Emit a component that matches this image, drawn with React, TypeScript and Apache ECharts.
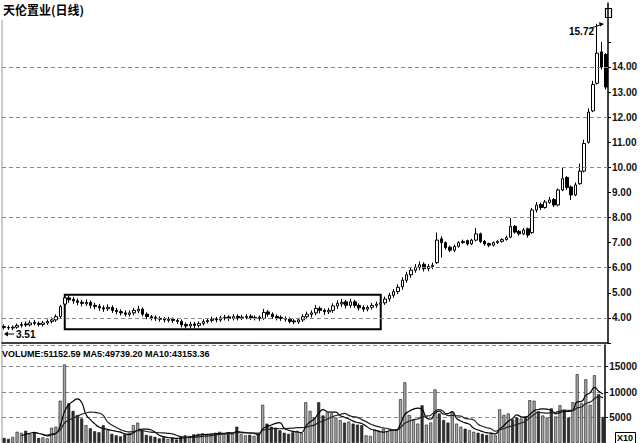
import React, { useEffect, useRef } from 'react';
import * as echarts from 'echarts';

// Daily K-line of 天伦置业 (140 trading days)
const openPrices = [
  3.66, 3.62, 3.60, 3.63, 3.70, 3.76, 3.72, 3.82, 3.78, 3.74, 3.80, 3.86, 3.92, 4.05, 4.55,
  4.80, 4.74, 4.68, 4.62, 4.56, 4.62, 4.50, 4.46, 4.40, 4.36, 4.42, 4.30, 4.25, 4.20, 4.14,
  4.20, 4.28, 4.35, 4.15, 4.05, 4.02, 3.98, 3.95, 3.90, 3.95, 3.90, 3.86, 3.74, 3.68, 3.76,
  3.70, 3.78, 3.85, 3.90, 3.96, 3.92, 4.00, 4.04, 3.98, 4.06, 4.00, 4.02, 4.07, 4.00, 4.03,
  3.98, 4.24, 4.15, 4.06, 4.02, 3.98, 3.95, 3.88, 3.84, 3.92, 4.05, 4.14, 4.20, 4.38, 4.30,
  4.24, 4.30, 4.48, 4.56, 4.64, 4.50, 4.64, 4.50, 4.42, 4.35, 4.42, 4.50, 4.55, 4.60, 4.76,
  4.90, 5.05, 5.24, 5.50, 5.72, 5.90, 6.02, 6.14, 5.96, 6.05, 6.20, 7.15, 7.00, 6.82, 6.70,
  6.85, 7.00, 7.08, 6.95, 7.10, 7.35, 7.05, 6.96, 6.90, 7.00, 7.05, 7.12, 7.22, 7.65, 7.45,
  7.35, 7.55, 7.40, 8.30, 8.52, 8.40, 8.60, 8.72, 8.50, 9.10, 9.60, 9.22, 8.90, 9.35, 9.85,
  11.00, 12.25, 13.35, 14.60, 14.50,
];
const closePrices = [
  3.62, 3.60, 3.63, 3.70, 3.74, 3.72, 3.80, 3.78, 3.74, 3.80, 3.86, 3.92, 4.05, 4.45, 4.80,
  4.72, 4.68, 4.62, 4.58, 4.62, 4.50, 4.45, 4.40, 4.36, 4.42, 4.30, 4.25, 4.20, 4.15, 4.20,
  4.30, 4.35, 4.15, 4.05, 4.00, 3.98, 3.95, 3.92, 3.95, 3.90, 3.86, 3.72, 3.68, 3.75, 3.70,
  3.78, 3.85, 3.90, 3.95, 3.92, 4.00, 4.02, 3.98, 4.05, 4.00, 4.03, 4.06, 4.00, 4.02, 3.98,
  4.22, 4.15, 4.05, 4.00, 3.98, 3.95, 3.86, 3.84, 3.92, 4.05, 4.15, 4.20, 4.38, 4.30, 4.25,
  4.30, 4.48, 4.58, 4.62, 4.50, 4.64, 4.50, 4.40, 4.35, 4.42, 4.50, 4.55, 4.60, 4.75, 4.90,
  5.05, 5.22, 5.50, 5.72, 5.90, 6.02, 6.12, 5.96, 6.05, 6.10, 7.10, 7.00, 6.80, 6.70, 6.85,
  7.00, 7.05, 6.95, 7.10, 7.35, 7.05, 6.95, 6.90, 7.00, 7.05, 7.12, 7.20, 7.65, 7.42, 7.35,
  7.50, 7.30, 8.30, 8.50, 8.40, 8.62, 8.70, 8.50, 9.10, 9.55, 9.20, 8.90, 9.30, 9.85, 10.95,
  12.20, 13.30, 14.55, 14.00, 13.20,
];
const lowPrices = [
  3.54, 3.52, 3.51, 3.57, 3.62, 3.64, 3.66, 3.70, 3.66, 3.66, 3.72, 3.78, 3.84, 3.98, 4.36,
  4.60, 4.56, 4.50, 4.46, 4.48, 4.38, 4.34, 4.28, 4.24, 4.28, 4.20, 4.14, 4.10, 4.06, 4.05,
  4.10, 4.18, 4.06, 3.95, 3.90, 3.88, 3.85, 3.82, 3.82, 3.80, 3.76, 3.62, 3.58, 3.60, 3.60,
  3.62, 3.70, 3.78, 3.82, 3.82, 3.84, 3.90, 3.88, 3.90, 3.90, 3.92, 3.94, 3.92, 3.90, 3.88,
  3.92, 4.05, 3.96, 3.90, 3.88, 3.85, 3.78, 3.75, 3.76, 3.84, 3.95, 4.02, 4.10, 4.18, 4.12,
  4.15, 4.20, 4.36, 4.44, 4.38, 4.40, 4.40, 4.30, 4.25, 4.26, 4.33, 4.40, 4.45, 4.52, 4.65,
  4.80, 4.95, 5.12, 5.40, 5.60, 5.80, 5.90, 5.85, 5.86, 5.94, 6.15, 6.40, 6.72, 6.62, 6.62,
  6.80, 6.95, 6.88, 6.90, 7.05, 6.98, 6.88, 6.82, 6.85, 6.95, 7.00, 7.08, 7.18, 7.36, 7.28,
  7.30, 7.20, 7.35, 8.20, 8.30, 8.35, 8.55, 8.42, 8.45, 9.05, 9.10, 8.70, 8.85, 9.30, 9.80,
  10.95, 12.20, 13.30, 13.90, 13.10,
];
const highPrices = [
  3.74, 3.70, 3.70, 3.78, 3.84, 3.86, 3.90, 3.92, 3.86, 3.88, 3.94, 4.02, 4.14, 4.52, 4.90,
  4.90, 4.84, 4.78, 4.72, 4.74, 4.70, 4.60, 4.56, 4.50, 4.54, 4.50, 4.40, 4.34, 4.30, 4.30,
  4.40, 4.48, 4.42, 4.22, 4.12, 4.10, 4.06, 4.03, 4.04, 4.02, 3.98, 3.94, 3.82, 3.85, 3.84,
  3.86, 3.95, 3.98, 4.05, 4.04, 4.08, 4.12, 4.11, 4.15, 4.14, 4.12, 4.15, 4.14, 4.10, 4.10,
  4.36, 4.32, 4.22, 4.14, 4.10, 4.06, 4.02, 3.96, 4.00, 4.15, 4.25, 4.30, 4.52, 4.46, 4.38,
  4.40, 4.58, 4.70, 4.76, 4.72, 4.76, 4.72, 4.58, 4.50, 4.50, 4.60, 4.65, 4.70, 4.85, 5.00,
  5.15, 5.34, 5.62, 5.84, 6.02, 6.14, 6.25, 6.22, 6.15, 6.20, 7.40, 7.25, 7.05, 6.88, 6.92,
  7.06, 7.12, 7.12, 7.15, 7.58, 7.40, 7.10, 7.00, 7.05, 7.10, 7.18, 7.28, 7.98, 7.70, 7.50,
  7.58, 7.60, 8.38, 8.62, 8.60, 8.70, 8.82, 8.78, 9.16, 10.00, 9.65, 9.28, 9.40, 10.15, 11.10,
  12.35, 13.45, 15.72, 15.00, 14.55,
];
const volumes = [
  1000, 800, 1200, 2200, 2000, 2400, 1800, 2100, 1000, 1100, 900, 3000, 3200, 8300, 15400,
  7800, 6300, 5500, 4800, 3500, 2900, 2300, 2100, 3500, 2600, 1800, 1500, 1300, 1700, 2000,
  3500, 4000, 2500, 1600, 1400, 1200, 900, 1100, 800, 1000, 700, 1200, 1500, 1400, 1700,
  1800, 1900, 1600, 1800, 2000, 2200, 1900, 2100, 1800, 3200, 1700, 1500, 1600, 1400, 1800,
  7500, 3800, 3200, 3000, 2500, 2000, 1800, 2100, 2400, 2000, 8000, 6300, 5000, 8000, 5400,
  6000, 5800, 5000, 4500, 4000, 4200, 3800, 3600, 3500, 1500, 1400, 2600, 2400, 2800, 2300,
  2500, 2700, 8600, 11900, 5500, 4500, 3800, 7400, 3600, 4000, 10500, 5800, 4500, 4000, 6000,
  3800, 3200, 2800, 2500, 2200, 2000, 1800, 1600, 2000, 1500, 6600, 5500, 5800, 4600, 5000,
  4800, 5200, 8400, 8300, 6200, 5400, 5000, 6800, 5200, 7400, 6500, 5000, 8000, 13500, 7800,
  12500, 7500, 13300, 9600, 5100,
];
const priceTickLines = [4, 6, 8, 10, 12, 14];
const boxRange = { startDay: 14, endDay: 87, top: 4.92, bottom: 3.55 };
const lowestLabel = '3.51';
const highestLabel = '15.72';
const titleText = '天伦置业(日线)';
const volumeText = 'VOLUME:51152.59 MA5:49739.20 MA10:43153.36';

const dayLabels = openPrices.map((_, i) => `D${i + 1}`);

function movingAverage(arr: number[], n: number) {
  return arr.map((_, i) => {
    if (i < n - 1) return '-';
    let s = 0;
    for (let k = i - n + 1; k <= i; k++) s += arr[k];
    return +(s / n).toFixed(1);
  });
}

const smallFont = '"Liberation Sans Narrow", "Liberation Sans", Arial, sans-serif';

export default function App() {
  const ref = useRef<HTMLDivElement>(null);
  useEffect(() => {
    if (!ref.current) return;
    const chart = echarts.init(ref.current, undefined, { renderer: 'svg' });
    const kData = openPrices.map((o, i) => [o, closePrices[i], lowPrices[i], highPrices[i]]);
    const volData = volumes.map((v, i) => ({
      value: v,
      itemStyle: {
        color: closePrices[i] >= openPrices[i] ? '#a8a8a8' : '#303030',
        borderColor: '#111',
        borderWidth: 0.6,
      },
    }));
    const axisFont = { fontFamily: smallFont, fontWeight: 'bold' as const, fontSize: 10, color: '#111' };
    chart.setOption({
      animation: false,
      backgroundColor: '#fff',
      textStyle: { fontFamily: 'Liberation Sans, Arial, sans-serif' },
      grid: [
        { left: 2, right: 26, top: 3, height: 340 },
        { left: 2, right: 26, top: 345, height: 100 },
      ],
      xAxis: [
        {
          type: 'category', gridIndex: 0, data: dayLabels, boundaryGap: true,
          axisLine: { show: true, lineStyle: { color: '#000', width: 1.5 } },
          axisTick: { show: false }, axisLabel: { show: false }, splitLine: { show: false },
        },
        {
          type: 'category', gridIndex: 1, data: dayLabels, boundaryGap: true,
          axisLine: { show: false }, axisTick: { show: false }, axisLabel: { show: false },
        },
      ],
      yAxis: [
        {
          type: 'value', gridIndex: 0, position: 'right', min: 3, max: 16.55, interval: 1,
          axisLine: { show: true, lineStyle: { color: '#000', width: 1.5 } },
          axisTick: { show: true, length: 3, lineStyle: { color: '#000' } },
          splitLine: { show: false },
          axisLabel: {
            ...axisFont, margin: 4, showMaxLabel: false,
            formatter: (v: number) => (v >= 4 && v <= 14 ? v.toFixed(2) : ''),
          },
        },
        {
          type: 'value', gridIndex: 1, position: 'right', min: 0, max: 19230, interval: 5000,
          axisLine: { show: true, lineStyle: { color: '#000', width: 1.5 } },
          axisTick: { show: true, length: 3, lineStyle: { color: '#000' } },
          splitLine: { show: true, lineStyle: { color: '#888', type: [4, 3], width: 1 } },
          axisLabel: {
            ...axisFont, margin: 4, showMaxLabel: false,
            formatter: (v: number) => (v > 0 && v <= 15000 ? String(v) : ''),
          },
        },
      ],
      series: [
        {
          type: 'candlestick', xAxisIndex: 0, yAxisIndex: 0, data: kData,
          barWidth: 3,
          itemStyle: { color: '#fff', color0: '#000', borderColor: '#000', borderColor0: '#000', borderWidth: 1 },
          markLine: {
            silent: true, symbol: 'none', label: { show: false },
            lineStyle: { color: '#888', type: [4, 3], width: 1 },
            data: priceTickLines.map((p) => ({ yAxis: p })),
          },
          markArea: {
            silent: true,
            itemStyle: { color: 'rgba(0,0,0,0)', borderColor: '#000', borderWidth: 2 },
            data: [[
              { xAxis: dayLabels[boxRange.startDay], yAxis: boxRange.top },
              { xAxis: dayLabels[boxRange.endDay], yAxis: boxRange.bottom },
            ]],
          },
        },
        {
          type: 'bar', xAxisIndex: 1, yAxisIndex: 1, data: volData, barWidth: 3,
        },
        {
          type: 'line', xAxisIndex: 1, yAxisIndex: 1, data: movingAverage(volumes, 5),
          symbol: 'none', smooth: true, lineStyle: { color: '#000', width: 1.2 },
        },
        {
          type: 'line', xAxisIndex: 1, yAxisIndex: 1, data: movingAverage(volumes, 10),
          symbol: 'none', smooth: true, lineStyle: { color: '#222', width: 1.2 },
        },
      ],
      graphic: [
        { type: 'line', shape: { x1: 2, y1: 20, x2: 2, y2: 443 }, style: { stroke: '#999', lineWidth: 1 } },
        {
          type: 'text', left: 3, top: 3,
          style: { text: titleText, font: 'bold 12px "Noto Sans CJK SC", sans-serif', fill: '#000' },
        },
        {
          type: 'text', left: 2, top: 349,
          style: { text: volumeText, font: `bold 9px ${smallFont}`, fill: '#000' },
        },
        { type: 'line', shape: { x1: 5, y1: 334, x2: 14, y2: 334 }, style: { stroke: '#000', lineWidth: 1 } },
        { type: 'polygon', shape: { points: [[4, 334], [8, 331.5], [8, 336.5]] }, style: { fill: '#000' } },
        {
          type: 'text', left: 16, top: 329,
          style: { text: lowestLabel, font: `bold 10px ${smallFont}`, fill: '#000' },
        },
        {
          type: 'text', left: 569, top: 26,
          style: { text: highestLabel, font: `bold 10px ${smallFont}`, fill: '#000' },
        },
        { type: 'polyline', shape: { points: [[591, 28], [603, 24]] }, style: { stroke: '#000', lineWidth: 1, fill: 'none' } },
        { type: 'polygon', shape: { points: [[604, 24], [599, 22], [600, 26.5]] }, style: { fill: '#000' } },
        { type: 'rect', shape: { x: 605.5, y: 8.5, width: 6, height: 9 }, style: { fill: '#fff', stroke: '#000', lineWidth: 1.2 } },
        { type: 'rect', shape: { x: 615.5, y: 432.5, width: 20, height: 12 }, style: { fill: '#fff', stroke: '#000', lineWidth: 1 } },
        {
          type: 'text', left: 617, top: 433,
          style: { text: 'X10', font: `bold 9px ${smallFont}`, fill: '#000' },
        },
      ],
    });
    return () => chart.dispose();
  }, []);
  return (
    <div
      ref={ref}
      style={{ position: 'fixed', left: 0, top: 0, width: 640, height: 443, background: '#fff' }}
    />
  );
}
